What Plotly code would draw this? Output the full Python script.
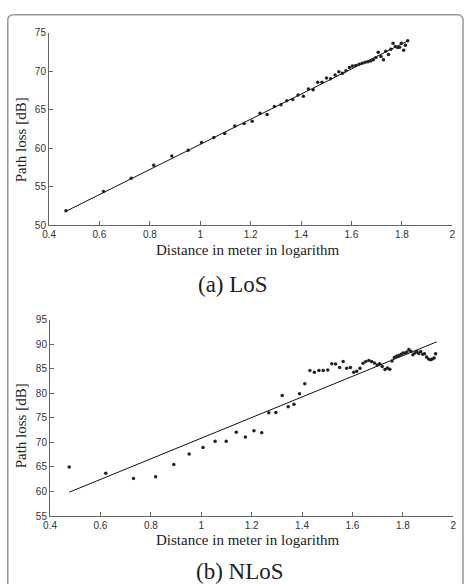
import plotly.graph_objects as go

# ---- data: (a) LoS ----
los_x = [0.467, 0.616, 0.726, 0.815, 0.887, 0.952, 1.005, 1.054, 1.097, 1.137,
         1.174, 1.206, 1.237, 1.265, 1.294, 1.320, 1.343, 1.367, 1.388, 1.409,
         1.429, 1.448, 1.466, 1.483, 1.501, 1.517, 1.535, 1.550, 1.564, 1.578,
         1.592, 1.604, 1.617, 1.630, 1.642, 1.654, 1.665, 1.676, 1.687, 1.697,
         1.706, 1.717, 1.727, 1.736, 1.747, 1.756, 1.765, 1.774, 1.783, 1.791,
         1.798, 1.807, 1.814, 1.823]
los_y = [51.87, 54.37, 56.10, 57.77, 58.96, 59.72, 60.74, 61.38, 61.88, 62.86,
         63.20, 63.50, 64.52, 64.35, 65.40, 65.62, 66.13, 66.30, 66.90, 66.72,
         67.66, 67.57, 68.55, 68.55, 69.10, 69.00, 69.48, 69.90, 69.70, 70.03,
         70.46, 70.67, 70.71, 70.88, 71.00, 71.14, 71.22, 71.30, 71.48, 71.77,
         72.45, 71.90, 71.48, 72.58, 72.16, 72.84, 73.60, 73.17, 73.05, 73.09,
         73.60, 72.70, 73.34, 73.94]
los_fit_x = [0.467, 1.823]
los_fit_y = [51.80, 73.90]

# ---- data: (b) NLoS ----
nlos_x = [0.476, 0.621, 0.731, 0.819, 0.891, 0.952, 1.007, 1.055, 1.099, 1.139,
          1.175, 1.209, 1.240, 1.268, 1.296, 1.321, 1.345, 1.368, 1.390, 1.411,
          1.431, 1.449, 1.467, 1.484, 1.502, 1.518, 1.533, 1.549, 1.563, 1.577,
          1.592, 1.605, 1.617, 1.630, 1.642, 1.653, 1.665, 1.676, 1.687, 1.698,
          1.708, 1.718, 1.729, 1.739, 1.748, 1.757, 1.766, 1.775, 1.784, 1.793,
          1.801, 1.809, 1.816, 1.824, 1.832, 1.840, 1.848, 1.855, 1.863, 1.871,
          1.879, 1.886, 1.894, 1.902, 1.910, 1.917, 1.924, 1.930]
nlos_y = [64.98, 63.72, 62.65, 62.99, 65.52, 67.65, 68.98, 70.24, 70.24, 72.04,
          71.10, 72.37, 71.97, 76.03, 76.10, 79.56, 77.23, 77.76, 79.89, 81.95,
          84.62, 84.28, 84.62, 84.62, 84.75, 86.01, 85.95, 85.22, 86.48, 85.08,
          85.22, 84.28, 84.48, 85.08, 86.08, 86.48, 86.68, 86.48, 86.15, 85.75,
          86.01, 85.42, 84.82, 85.15, 84.88, 86.55, 87.28, 87.55, 87.68, 87.95,
          88.21, 88.21, 88.41, 88.88, 88.48, 87.81, 88.21, 88.48, 88.08, 88.48,
          87.95, 88.01, 87.35, 86.95, 86.81, 86.95, 87.15, 88.01]
nlos_fit_x = [0.476, 1.935]
nlos_fit_y = [59.86, 90.47]

x_ticks = [0.4, 0.6, 0.8, 1.0, 1.2, 1.4, 1.6, 1.8, 2.0]
x_ticktext = ["0.4", "0.6", "0.8", "1", "1.2", "1.4", "1.6", "1.8", "2"]
los_yticks = [50, 55, 60, 65, 70, 75]
nlos_yticks = [55, 60, 65, 70, 75, 80, 85, 90, 95]

x_title = "Distance in meter in logarithm"
y_title = "Path loss [dB]"
cap_a = "(a) LoS"
cap_b = "(b) NLoS"

W, H = 468, 584
def px(x): return x / W
def py(y): return 1 - y / H

fig = go.Figure()
mk = dict(size=3.5, color="#222222")
ln = dict(color="#111111", width=1)
fig.add_trace(go.Scatter(x=los_fit_x, y=los_fit_y, mode="lines", line=ln, xaxis="x", yaxis="y"))
fig.add_trace(go.Scatter(x=los_x, y=los_y, mode="markers", marker=mk, xaxis="x", yaxis="y"))
fig.add_trace(go.Scatter(x=nlos_fit_x, y=nlos_fit_y, mode="lines", line=ln, xaxis="x2", yaxis="y2"))
fig.add_trace(go.Scatter(x=nlos_x, y=nlos_y, mode="markers", marker=mk, xaxis="x2", yaxis="y2"))

tickfont = dict(family="Liberation Sans, Arial", size=10, color="#333333")
axcommon = dict(showgrid=False, zeroline=False, showline=True, linecolor="#666666",
                linewidth=1.2, ticks="inside", ticklen=4, tickcolor="#666666",
                tickfont=tickfont, mirror=False)

fig.update_layout(
    width=W, height=H, margin=dict(l=0, r=0, t=0, b=0),
    paper_bgcolor="white", plot_bgcolor="white", showlegend=False,
    xaxis=dict(domain=[px(43), px(455)], range=[0.4, 2.0], tickvals=x_ticks,
               ticktext=x_ticktext, anchor="y", **axcommon),
    yaxis=dict(domain=[py(224), py(28)], range=[50, 75], tickvals=los_yticks,
               anchor="x", **axcommon),
    xaxis2=dict(domain=[px(44), px(456)], range=[0.4, 2.0], tickvals=x_ticks,
                ticktext=x_ticktext, anchor="y2", **axcommon),
    yaxis2=dict(domain=[py(520), py(320)], range=[55, 95], tickvals=nlos_yticks,
                anchor="x2", **axcommon),
)

serif = "Liberation Serif, Times New Roman, serif"
ann = [
    dict(text=x_title, x=px(246), y=py(249), font=dict(family=serif, size=15, color="#222")),
    dict(text=y_title, x=px(14), y=py(137), textangle=-90, font=dict(family=serif, size=15, color="#222")),
    dict(text=cap_a, x=px(231), y=py(284), font=dict(family=serif, size=23, color="#222")),
    dict(text=x_title, x=px(246), y=py(544), font=dict(family=serif, size=15, color="#222")),
    dict(text=y_title, x=px(14), y=py(428), textangle=-90, font=dict(family=serif, size=15, color="#222")),
    dict(text=cap_b, x=px(238), y=py(576), font=dict(family=serif, size=23, color="#222")),
]
for a in ann:
    a.update(xref="paper", yref="paper", showarrow=False, xanchor="center", yanchor="middle")
fig.update_layout(annotations=ann)

# rounded frame around the figure
r = 6
x0, x1, y0, y1 = 0.8, 466, 10, 600
path = (f"M {px(x0)},{py(y1)} L {px(x0)},{py(y0 + r)} Q {px(x0)},{py(y0)} {px(x0 + r)},{py(y0)} "
        f"L {px(x1 - r)},{py(y0)} Q {px(x1)},{py(y0)} {px(x1)},{py(y0 + r)} L {px(x1)},{py(y1)}")
fig.add_shape(type="path", path=path, xref="paper", yref="paper",
              line=dict(color="#999999", width=1.5))

fig.write_html("out.html")
